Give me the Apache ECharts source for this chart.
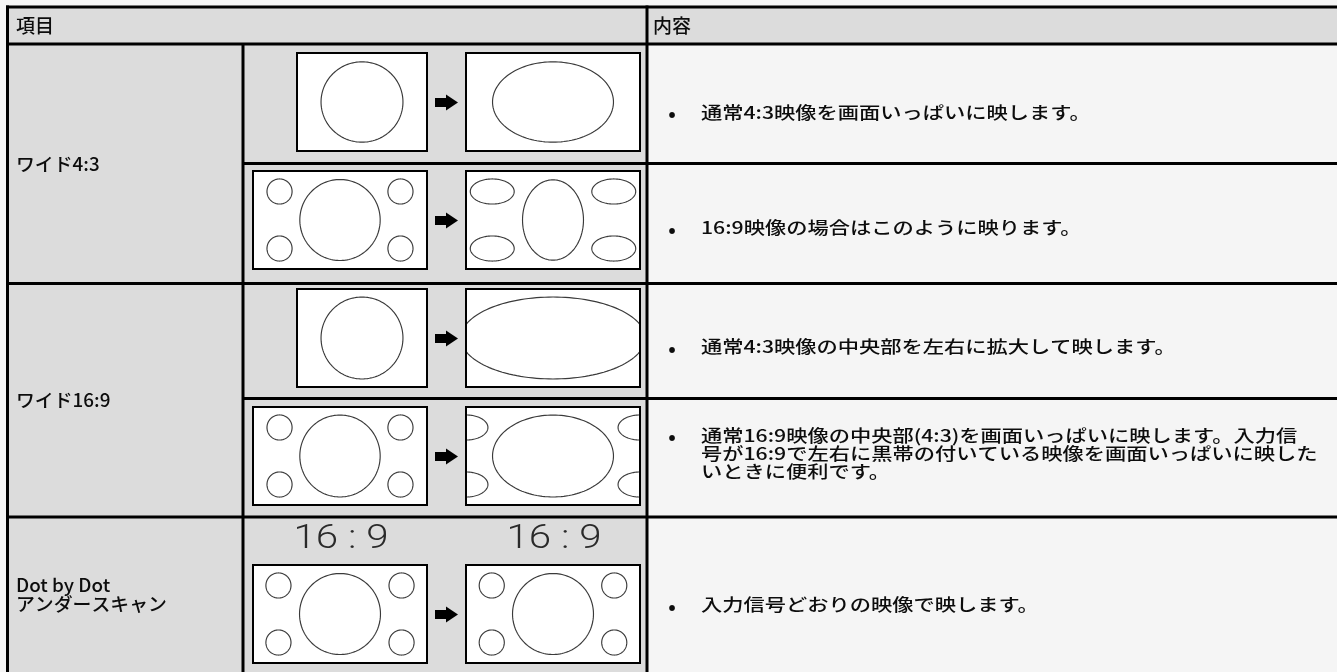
<!DOCTYPE html>
<html><head><meta charset="utf-8">
<script src="https://cdn.jsdelivr.net/npm/echarts@6/dist/echarts.min.js"></script>
<style>html,body{margin:0;padding:0;background:#f5f5f5;}#chart{width:1337px;height:672px;}</style>
</head><body><div id="chart"></div>
<script>
// ---------------- data ----------------
const headerLabels = ['項目', '内容'];
const itemLabels = ['ワイド4:3', 'ワイド16:9', 'Dot by Dot\nアンダースキャン'];
const subRowItems = [0, 0, 1, 1, 2];
const descriptions = [
  '通常4:3映像を画面いっぱいに映します。',
  '16:9映像の場合はこのように映ります。',
  '通常4:3映像の中央部を左右に拡大して映します。',
  '通常16:9映像の中央部(4:3)を画面いっぱいに映します。入力信\n号が16:9で左右に黒帯の付いている映像を画面いっぱいに映した\nいときに便利です。',
  '入力信号どおりの映像で映します。'
];
const sourceAspects = ['4:3', '16:9', '4:3', '16:9', '16:9'];
const targetAspects = ['16:9', '16:9', '16:9', '16:9', '16:9'];
const sourceCaptions = ['', '', '', '', '16 : 9'];
const targetCaptions = ['', '', '', '', '16 : 9'];
// picture content: ellipses [dx, dy, rx, ry] in units of frame height, from frame centre
const sourceScenes = [
  [[0, 0, 0.418, 0.410]],
  [[0, 0, 0.410, 0.413], [-0.617, -0.291, 0.128, 0.128], [0.617, -0.291, 0.128, 0.128], [-0.617, 0.291, 0.128, 0.128], [0.617, 0.291, 0.128, 0.128]],
  [[0, 0, 0.418, 0.418]],
  [[0, 0, 0.410, 0.418], [-0.617, -0.291, 0.128, 0.128], [0.617, -0.291, 0.128, 0.128], [-0.617, 0.291, 0.128, 0.128], [0.617, 0.291, 0.128, 0.128]],
  [[0, 0, 0.413, 0.413], [-0.628, -0.291, 0.128, 0.128], [0.628, -0.291, 0.128, 0.128], [-0.628, 0.291, 0.128, 0.128], [0.628, 0.291, 0.128, 0.128]]
];
const targetScenes = [
  [[0, 0, 0.617, 0.410]],
  [[0, 0, 0.311, 0.410], [-0.620, -0.291, 0.224, 0.128], [0.620, -0.291, 0.224, 0.128], [-0.620, 0.291, 0.224, 0.128], [0.620, 0.291, 0.224, 0.128]],
  [[0, 0, 0.940, 0.418]],
  [[0, 0, 0.617, 0.418], [-0.888, -0.291, 0.224, 0.128], [0.888, -0.291, 0.224, 0.128], [-0.888, 0.291, 0.224, 0.128], [0.888, 0.291, 0.224, 0.128]],
  [[0, 0, 0.413, 0.413], [-0.625, -0.291, 0.128, 0.128], [0.625, -0.291, 0.128, 0.128], [-0.625, 0.291, 0.128, 0.128], [0.625, 0.291, 0.128, 0.128]]
];

// ---------------- layout ----------------
const L = {
  W: 1337, H: 672,
  left: 7.5, top: 7, headerBottom: 44, col1: 243, col2: 647, right: 1345, bottom: 690,
  subRowEdges: [44, 163.5, 283.5, 398.5, 517, 690],
  rowCenterBottom: 672,
  lineW: 3,
  frameH: 98, frameW: {'4:3': 130, '16:9': 174},
  srcRight: 427, dstLeft: 466,
  frameDy: [-1.75, -3.5, -3, -1.75, 19.5],
  captionGap: 25,
  headerX: [16, 653], headerY: 25.5,
  labelX: 16,
  bulletX: 672, descX: 701,
  descDy: [9, 4.5, 6, -4.5, 10.5],
  lineH: 18.2
};
const FONT = '"Noto Sans CJK JP", "Noto Sans CJK SC", sans-serif';
const INK = '#0d0d0d';

function subRowCenter(i) {
  const a = L.subRowEdges[i];
  const b = Math.min(L.subRowEdges[i + 1], L.rowCenterBottom);
  return (a + b) / 2;
}
function itemRange(item) {
  let first = -1, last = -1;
  subRowItems.forEach((it, i) => { if (it === item) { if (first < 0) first = i; last = i; } });
  return [L.subRowEdges[first], Math.min(L.subRowEdges[last + 1], L.rowCenterBottom)];
}

function rectEl(api, x0, y0, x1, y1, style) {
  const a = api.coord([x0, y0]), b = api.coord([x1, y1]);
  return {type: 'rect', shape: {x: a[0], y: a[1], width: b[0] - a[0], height: b[1] - a[1]}, style: style};
}
function lineEl(api, x0, y0, x1, y1, w) {
  const a = api.coord([x0, y0]), b = api.coord([x1, y1]);
  return {type: 'line', shape: {x1: a[0], y1: a[1], x2: b[0], y2: b[1]}, style: {stroke: '#000', lineWidth: w}};
}
function ellipseEl(api, cx, cy, rx, ry, xmin, xmax) {
  const pts = [];
  const n = 140;
  for (let k = 0; k < n; k++) {
    const t = k / n * Math.PI * 2;
    const x = Math.min(xmax, Math.max(xmin, cx + rx * Math.cos(t)));
    pts.push(api.coord([x, cy + ry * Math.sin(t)]));
  }
  return {type: 'polygon', shape: {points: pts}, style: {fill: 'none', stroke: '#3a3a3a', lineWidth: 1.15}};
}
function frameGroup(api, x0, x1, yc, scene) {
  const h = L.frameH, y0 = yc - h / 2, y1 = yc + h / 2, cx = (x0 + x1) / 2;
  const children = [rectEl(api, x0, y0, x1, y1, {fill: '#ffffff'})];
  scene.forEach(e => children.push(ellipseEl(api, cx + e[0] * h, yc + e[1] * h, e[2] * h, e[3] * h, x0, x1)));
  children.push(rectEl(api, x0, y0, x1, y1, {fill: 'none', stroke: '#000', lineWidth: 2}));
  return children;
}
function arrowEl(api, ax, ay) {
  const raw = [[ax - 11.5, ay - 4.5], [ax - 0.5, ay - 4.5], [ax - 0.5, ay - 8], [ax + 11.5, ay],
               [ax - 0.5, ay + 8], [ax - 0.5, ay + 4.5], [ax - 11.5, ay + 4.5]];
  return {type: 'polygon', shape: {points: raw.map(p => api.coord(p))}, style: {fill: '#000'}};
}
function textEl(api, x, y, text, opt) {
  const p = api.coord([x, y]);
  return {
    type: 'text', x: p[0], y: p[1], scaleX: opt.scaleX || 1, scaleY: 1,
    style: {
      text: text, fill: opt.fill || INK, fontSize: opt.fontSize, fontFamily: opt.fontFamily || FONT,
      fontWeight: opt.fontWeight || 500,
      align: opt.align || 'left', verticalAlign: 'middle', lineHeight: opt.lineHeight || opt.fontSize * 1.1
    }
  };
}

// table skeleton
function renderTable(params, api) {
  const ch = [];
  const g = '#dcdcdc';
  ch.push(rectEl(api, L.left, L.top, L.right, L.headerBottom, {fill: g}));
  ch.push(rectEl(api, L.left, L.headerBottom, L.col2, L.bottom, {fill: g}));
  const w = L.lineW, ext = w / 2;
  ch.push(lineEl(api, L.left - ext, L.top, L.right, L.top, w));
  ch.push(lineEl(api, L.left - ext, L.headerBottom, L.right, L.headerBottom, w));
  for (let i = 1; i < subRowItems.length; i++) {
    const y = L.subRowEdges[i];
    const startX = subRowItems[i] === subRowItems[i - 1] ? L.col1 : L.left - ext;
    ch.push(lineEl(api, startX, y, L.right, y, w));
  }
  ch.push(lineEl(api, L.left, L.top - ext, L.left, L.bottom, w));
  ch.push(lineEl(api, L.col1, L.headerBottom, L.col1, L.bottom, w));
  ch.push(lineEl(api, L.col2, L.top - ext, L.col2, L.bottom, w));
  headerLabels.forEach((t, k) => ch.push(textEl(api, L.headerX[k], L.headerY, t, {fontSize: 19})));
  return {type: 'group', children: ch};
}

function renderDiagram(params, api) {
  const i = api.value(0);
  const yc = subRowCenter(i) + L.frameDy[i];
  const sw = L.frameW[sourceAspects[i]], dw = L.frameW[targetAspects[i]];
  const sx0 = L.srcRight - sw, sx1 = L.srcRight;
  const dx0 = L.dstLeft, dx1 = L.dstLeft + dw;
  let ch = [];
  ch = ch.concat(frameGroup(api, sx0, sx1, yc, sourceScenes[i]));
  ch = ch.concat(frameGroup(api, dx0, dx1, yc, targetScenes[i]));
  ch.push(arrowEl(api, (L.srcRight + L.dstLeft) / 2, yc + 0.5));
  const capY = yc - L.frameH / 2 - L.captionGap;
  const capOpt = {fontSize: 33, scaleX: 1.22, fontFamily: 'Roboto, "Noto Sans", sans-serif', fontWeight: 300, fill: '#2a2a2a', align: 'center'};
  if (sourceCaptions[i]) ch.push(textEl(api, (sx0 + sx1) / 2 + 1, capY, sourceCaptions[i], capOpt));
  if (targetCaptions[i]) ch.push(textEl(api, (dx0 + dx1) / 2 + 1, capY, targetCaptions[i], capOpt));
  return {type: 'group', children: ch};
}

function renderLabel(params, api) {
  const k = api.value(0);
  const r = itemRange(k);
  return textEl(api, L.labelX, (r[0] + r[1]) / 2, itemLabels[k], {fontSize: 18.5, lineHeight: 18.5, scaleX: 1.02});
}

function renderDesc(params, api) {
  const i = api.value(0);
  const text = descriptions[i];
  const n = text.split('\n').length;
  const yc = subRowCenter(i) + L.descDy[i];
  const firstY = yc - (n - 1) * L.lineH / 2;
  return {type: 'group', children: [
    textEl(api, L.bulletX, firstY + 1, '•', {fontSize: 20, fontWeight: 'bold', align: 'center'}),
    textEl(api, L.descX, yc, text, {fontSize: 17, scaleX: 1.25, lineHeight: L.lineH})
  ]};
}

const chart = echarts.init(document.getElementById('chart'), null, {renderer: 'canvas'});
chart.setOption({
  backgroundColor: '#f5f5f5',
  animation: false,
  grid: {left: 0, right: 0, top: 0, bottom: 0},
  xAxis: {type: 'value', min: 0, max: L.W, show: false},
  yAxis: {type: 'value', min: 0, max: L.H, inverse: true, show: false},
  series: [
    {type: 'custom', name: 'table', silent: true, clip: false, z: 1, data: [[0, 0]], renderItem: renderTable},
    {type: 'custom', name: 'diagram', silent: true, clip: false, z: 2, data: subRowItems.map((_, i) => [i, 0]), renderItem: renderDiagram},
    {type: 'custom', name: 'item', silent: true, clip: false, z: 3, data: itemLabels.map((_, k) => [k, 0]), renderItem: renderLabel},
    {type: 'custom', name: 'description', silent: true, clip: false, z: 3, data: descriptions.map((_, i) => [i, 0]), renderItem: renderDesc}
  ]
});
</script>
</body></html>
